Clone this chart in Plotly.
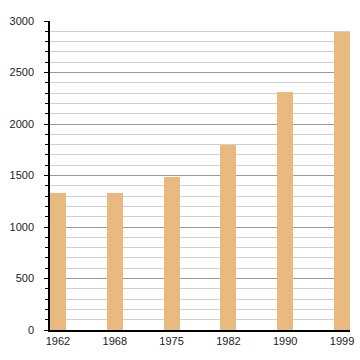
import plotly.graph_objects as go

years = ["1962", "1968", "1975", "1982", "1990", "1999"]
population = [1330, 1330, 1485, 1796, 2311, 2893]

fig = go.Figure(go.Bar(
    x=years, y=population,
    marker=dict(color="#E9BA80", line=dict(width=0)),
    width=0.28,
))

fig.update_layout(
    width=360, height=360,
    margin=dict(l=50, r=10, t=21, b=30, autoexpand=False),
    paper_bgcolor="white", plot_bgcolor="white",
    showlegend=False,
    font=dict(family="Liberation Sans, Arial, sans-serif", size=11, color="#222"),
    bargap=0,
)
fig.update_xaxes(
    type="category", range=[-0.14, 5.14], automargin=False,
    showline=True, linecolor="black", linewidth=1.5,
    ticks="", showgrid=False, tickfont=dict(size=11),
)
fig.update_yaxes(
    range=[0, 3000], dtick=500, automargin=False,
    showline=True, linecolor="black", linewidth=1.5,
    ticks="outside", ticklen=4, tickcolor="black",
    ticklabelstandoff=8,
    showgrid=True, gridcolor="#999999", gridwidth=1,
    zeroline=False,
    minor=dict(dtick=100, showgrid=True, gridcolor="#d0d0d0", gridwidth=1,
               ticks="outside", ticklen=3, tickcolor="black"),
    tickfont=dict(size=11),
)

fig.write_html("out.html", config={"displayModeBar": False},
               post_script="document.body.style.margin='0';document.body.style.overflow='hidden';")
